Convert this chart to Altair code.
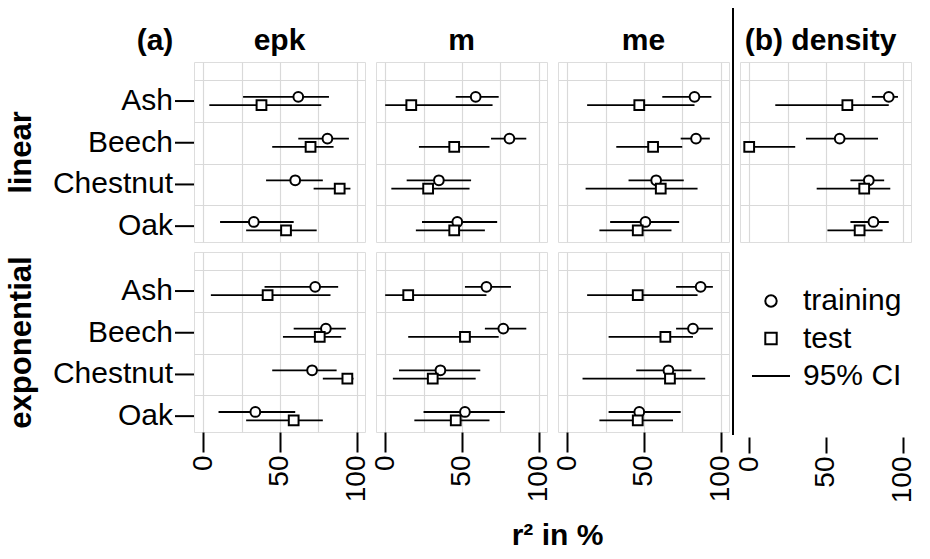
import altair as alt
import pandas as pd

species = ["Ash", "Beech", "Chestnut", "Oak"]
legend_items = ["training", "test", "95% CI"]

# [estimate, lower 95% CI, upper 95% CI] of r² in %, one row per species
epk_linear_training = [[62, 26, 82], [81, 62, 95], [60, 41, 78], [33, 11, 59]]
epk_linear_test = [[38, 4, 77], [70, 45, 85], [89, 72, 96], [54, 28, 74]]
m_linear_training = [[59, 46, 74], [81, 69, 92], [35, 14, 56], [47, 24, 73]]
m_linear_test = [[17, 0, 70], [45, 22, 68], [28, 4, 55], [45, 20, 65]]
me_linear_training = [[83, 62, 94], [84, 74, 93], [58, 40, 76], [51, 28, 73]]
me_linear_test = [[47, 13, 83], [56, 32, 75], [61, 12, 85], [46, 21, 68]]
density_linear_training = [[91, 80, 97], [59, 37, 84], [78, 66, 88], [81, 66, 91]]
density_linear_test = [[64, 17, 91], [0, 0, 30], [75, 44, 92], [72, 51, 87]]
epk_exponential_training = [[73, 40, 88], [80, 59, 93], [71, 45, 87], [34, 10, 60]]
epk_exponential_test = [[42, 5, 83], [76, 52, 90], [94, 78, 98], [59, 28, 78]]
m_exponential_training = [[66, 52, 82], [77, 65, 92], [36, 9, 62], [52, 25, 78]]
m_exponential_test = [[15, 0, 66], [52, 15, 74], [31, 5, 59], [46, 19, 68]]
me_exponential_training = [[87, 71, 95], [82, 71, 95], [66, 45, 81], [47, 27, 74]]
me_exponential_test = [[46, 13, 85], [64, 27, 82], [67, 10, 90], [46, 21, 69]]

x_ticks = [0, 25, 50, 75, 100]
y_grid = [1, 2, 3, 4, 5, 6, 7, 8]   # species rows at 2,4,6,8; half-steps between

series = {
    ("epk", "linear", "training"): epk_linear_training,
    ("epk", "linear", "test"): epk_linear_test,
    ("m", "linear", "training"): m_linear_training,
    ("m", "linear", "test"): m_linear_test,
    ("me", "linear", "training"): me_linear_training,
    ("me", "linear", "test"): me_linear_test,
    ("density", "linear", "training"): density_linear_training,
    ("density", "linear", "test"): density_linear_test,
    ("epk", "exponential", "training"): epk_exponential_training,
    ("epk", "exponential", "test"): epk_exponential_test,
    ("m", "exponential", "training"): m_exponential_training,
    ("m", "exponential", "test"): m_exponential_test,
    ("me", "exponential", "training"): me_exponential_training,
    ("me", "exponential", "test"): me_exponential_test,
}

records = []
for (model, form, set_name), vals in series.items():
    for sp, (est, lo, hi) in zip(species, vals):
        records.append(dict(model=model, form=form, set=set_name, species=sp,
                            est=est, lo=lo, hi=hi))
df = pd.DataFrame(records)
species_df = pd.DataFrame({"species": species})

FONT = "Liberation Sans"
FS = 28      # x tick labels
YFS = 30     # species labels
TFS = 30     # bold column titles
RFS = 31     # bold row titles
LFS = 30     # legend text
W, H = 171, 180
GRID = "#d9d9d9"
xscale = alt.Scale(domain=[-6, 105.5], nice=False, zero=False)
yscale = alt.Scale(domain=[0.128, 8.76], nice=False, zero=False, reverse=True)
shape_scale = alt.Scale(domain=["training", "test"], range=["circle", "square"])
sp_list = ", ".join(f"'{s}'" for s in species)
row_expr = f"2 * (indexof([{sp_list}], datum.species) + 1)"

x_tick_cond = {"condition": {"test": "datum.value % 50 !== 0", "value": 0}, "value": 1}


def x_axis(bottom, title=None):
    if bottom:
        kw = dict(values=x_ticks, grid=True, gridColor=GRID, gridWidth=1.2,
                  domain=False, ticks=True, tickSize=20, tickWidth=2,
                  tickColor="black", tickOpacity=x_tick_cond,
                  labelExpr="datum.value % 50 === 0 ? datum.label : ''",
                  labelAngle=270, labelAlign="right", labelBaseline="middle",
                  labelFontSize=FS, labelColor="black", labelPadding=3,
                  labelFont=FONT, labelOverlap=False, labelBound=False,
                  labelFlush=False)
        if title:
            return alt.Axis(title=title, titleFontSize=TFS, titleFontWeight="bold",
                            titleColor="black", titleFont=FONT, titleX=181,
                            titleY=103, titleBaseline="middle", titleAlign="center",
                            **kw)
        return alt.Axis(title=None, **kw)
    return alt.Axis(values=x_ticks, grid=True, gridColor=GRID, gridWidth=1.2,
                    domain=False, ticks=False, labels=False, title=None)


def y_axis(first, title):
    if first:
        return alt.Axis(values=y_grid, grid=True, gridColor=GRID, gridWidth=1.2,
                        domain=False, ticks=False, labels=False, minExtent=0,
                        title=title, titleFontSize=RFS,
                        titleFontWeight="bold", titleColor="black", titleFont=FONT,
                        titlePadding=157)
    return alt.Axis(values=y_grid, grid=True, gridColor=GRID, gridWidth=1.2,
                    domain=False, ticks=False, labels=False, title=None)


def label_text(text, dx, dy):
    return alt.Chart(pd.DataFrame({"t": [text]})).mark_text(
        fontSize=TFS, fontWeight="bold", font=FONT, color="black",
        align="center", baseline="middle", clip=False
    ).encode(x=alt.value(dx), y=alt.value(dy), text="t:N")


def panel(model, form, first=False, bottom=False, title=None, xtitle=None, tdx=0):
    base = alt.Chart(df).transform_filter(
        (alt.datum.model == model) & (alt.datum.form == form)
    ).transform_calculate(
        ypos=f"{row_expr} + (datum.set === 'training' ? -0.2 : 0.2)"
    )
    rules = base.mark_rule(color="black", strokeWidth=1.8).encode(
        x=alt.X("lo:Q", scale=xscale, axis=x_axis(bottom, xtitle)),
        x2="hi:Q",
        y=alt.Y("ypos:Q", scale=yscale, axis=y_axis(first, form)),
    )
    pts = base.mark_point(filled=True, fill="white", stroke="black", strokeWidth=2,
                          size=95, opacity=1).encode(
        x=alt.X("est:Q", scale=xscale),
        y=alt.Y("ypos:Q", scale=yscale),
        shape=alt.Shape("set:N", scale=shape_scale, legend=None),
    )
    layers = [rules, pts]
    if first:
        sp_base = alt.Chart(species_df).transform_calculate(ypos=row_expr)
        sp_ticks = sp_base.mark_rule(color="black", strokeWidth=2, clip=False).encode(
            x=alt.value(-19), x2=alt.value(0), y=alt.Y("ypos:Q", scale=yscale))
        sp_labels = sp_base.mark_text(align="right", baseline="middle", fontSize=YFS,
                                      font=FONT, color="black", clip=False).encode(
            x=alt.value(-21), y=alt.Y("ypos:Q", scale=yscale), text="species:N")
        layers += [sp_ticks, sp_labels]
    if title:
        layers.append(label_text(title, W / 2 + tdx, -21))
    if model == "epk" and form == "linear":
        layers.append(label_text("(a)", -39, -21))
    if model == "density":
        sep = alt.Chart(pd.DataFrame({"sep": [1]})).mark_rule(
            color="black", strokeWidth=2, clip=False
        ).encode(x=alt.value(-7), y=alt.value(-54), y2=alt.value(373))
        layers.append(sep)
    return alt.layer(*layers).properties(width=W, height=H)


# legend slot (also carries the x axis of the density column)
leg_df = pd.DataFrame({"item": legend_items})
ly = alt.Scale(type="point", domain=legend_items, range=[49, 124], padding=0)
leg_base = alt.Chart(leg_df)
leg_pts = leg_base.transform_filter(alt.datum.item != "95% CI").mark_point(
    filled=True, fill="white", stroke="black", strokeWidth=2, size=130, opacity=1
).encode(x=alt.value(31), y=alt.Y("item:N", scale=ly, axis=None),
         shape=alt.Shape("item:N", scale=shape_scale, legend=None))
leg_rule = leg_base.transform_filter(alt.datum.item == "95% CI").mark_rule(
    color="black", strokeWidth=1.8
).encode(x=alt.value(12), x2=alt.value(50), y=alt.Y("item:N", scale=ly, axis=None))
leg_text = leg_base.mark_text(align="left", baseline="middle", fontSize=LFS,
                              font=FONT, color="black").encode(
    x=alt.value(63), y=alt.Y("item:N", scale=ly, axis=None), text="item:N")
dens_axis = alt.Axis(values=[0, 50, 100], grid=False, domain=False, ticks=True,
                     tickSize=16, tickWidth=2, tickColor="black", offset=5,
                     labelAngle=270, labelAlign="right", labelBaseline="middle",
                     labelFontSize=FS, labelColor="black", labelPadding=3,
                     labelFont=FONT, labelOverlap=False, labelBound=False,
                     labelFlush=False, title=None)
leg_axis = alt.Chart(df).transform_filter(
    (alt.datum.model == "density") & (alt.datum.form == "linear")
).mark_point(opacity=0).encode(x=alt.X("est:Q", scale=xscale, axis=dens_axis))
legend_panel = alt.layer(leg_axis, leg_rule, leg_pts, leg_text).properties(
    width=W, height=H, view=alt.ViewBackground(strokeOpacity=0))

panels = [
    panel("epk", "linear", first=True, title="epk"),
    panel("m", "linear", title="m"),
    panel("me", "linear", title="me"),
    panel("density", "linear", title="(b) density", tdx=-5),
    panel("epk", "exponential", first=True, bottom=True),
    panel("m", "exponential", bottom=True, xtitle="r² in %"),
    panel("me", "exponential", bottom=True),
    legend_panel,
]

chart = alt.concat(*panels, columns=4, spacing={"row": 10, "column": 11},
                   bounds="flush").properties(
    padding={"left": 4, "top": 6, "right": 5, "bottom": 5}
).configure_view(stroke="#333333", strokeWidth=1.5).configure(font=FONT)

chart.save("out.html", embed_options={"renderer": "svg", "actions": False})
